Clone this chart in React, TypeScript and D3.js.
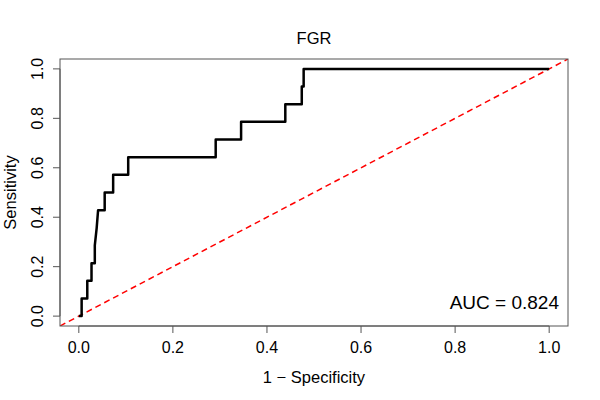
import { useEffect, useRef } from "react";
import * as d3 from "d3";

// ROC curve points (1 - specificity, sensitivity)
const fpr = [
  0, 0.006, 0.006, 0.018, 0.018, 0.027, 0.027, 0.034, 0.034, 0.038, 0.041, 0.055, 0.055,
  0.073, 0.073, 0.105, 0.105, 0.291, 0.291, 0.345, 0.345, 0.439, 0.439, 0.474, 0.474,
  0.478, 0.478, 1.0,
];
const tpr = [
  0, 0, 0.0714, 0.0714, 0.1429, 0.1429, 0.2143, 0.2143, 0.2857, 0.3571, 0.4286, 0.4286,
  0.5, 0.5, 0.5714, 0.5714, 0.6429, 0.6429, 0.7143, 0.7143, 0.7857, 0.7857, 0.8571,
  0.8571, 0.9286, 0.9286, 1.0, 1.0,
];
const xTicks = [0, 0.2, 0.4, 0.6, 0.8, 1.0];
const yTicks = [0, 0.2, 0.4, 0.6, 0.8, 1.0];
const title = "FGR";
const aucLabel = "AUC = 0.824";

export default function App() {
  const svgRef = useRef<SVGSVGElement>(null);

  useEffect(() => {
    if (!svgRef.current) return;
    const svg = d3.select(svgRef.current);
    svg.selectAll("*").remove();

    const font = "'Liberation Sans', Arial, Helvetica, sans-serif";
    const left = 60;
    const right = 568;
    const top = 59;
    const bottom = 326;
    const axisColor = "#555";

    // R-style 4% padding on each side
    const x = d3.scaleLinear().domain([-0.04, 1.04]).range([left, right]);
    const y = d3.scaleLinear().domain([-0.04, 1.04]).range([bottom, top]);
    const fmt = d3.format(".1f");

    svg.append("rect").attr("width", 600).attr("height", 400).attr("fill", "#fff");

    svg
      .append("defs")
      .append("clipPath")
      .attr("id", "plotClip")
      .append("rect")
      .attr("x", left)
      .attr("y", top)
      .attr("width", right - left)
      .attr("height", bottom - top);

    // Chance diagonal
    svg
      .append("line")
      .attr("clip-path", "url(#plotClip)")
      .attr("x1", x(-0.04))
      .attr("y1", y(-0.04))
      .attr("x2", x(1.04))
      .attr("y2", y(1.04))
      .attr("stroke", "#ff0000")
      .attr("stroke-width", 1.5)
      .attr("stroke-dasharray", "6,4");

    // ROC curve
    const pts: [number, number][] = fpr.map((f, i) => [f, tpr[i]]);
    const line = d3
      .line<[number, number]>()
      .x((d) => x(d[0]))
      .y((d) => y(d[1]));
    svg
      .append("path")
      .attr("d", line(pts))
      .attr("fill", "none")
      .attr("stroke", "#000")
      .attr("stroke-width", 2.5)
      .attr("stroke-linejoin", "round");

    // Box
    svg
      .append("rect")
      .attr("x", left)
      .attr("y", top)
      .attr("width", right - left)
      .attr("height", bottom - top)
      .attr("fill", "none")
      .attr("stroke", axisColor)
      .attr("stroke-width", 1);

    // X axis
    const gx = svg.append("g");
    gx.append("line")
      .attr("x1", x(0))
      .attr("x2", x(1))
      .attr("y1", bottom)
      .attr("y2", bottom)
      .attr("stroke", axisColor);
    gx.selectAll("line.tick")
      .data(xTicks)
      .join("line")
      .attr("class", "tick")
      .attr("x1", (d) => x(d))
      .attr("x2", (d) => x(d))
      .attr("y1", bottom)
      .attr("y2", bottom + 7)
      .attr("stroke", axisColor);
    gx.selectAll("text")
      .data(xTicks)
      .join("text")
      .attr("x", (d) => x(d))
      .attr("y", 353)
      .attr("text-anchor", "middle")
      .style("font-family", font)
      .style("font-size", "16px")
      .text((d) => fmt(d));

    // Y axis
    const gy = svg.append("g");
    gy.append("line")
      .attr("x1", left)
      .attr("x2", left)
      .attr("y1", y(0))
      .attr("y2", y(1))
      .attr("stroke", axisColor);
    gy.selectAll("line.tick")
      .data(yTicks)
      .join("line")
      .attr("class", "tick")
      .attr("x1", left - 7)
      .attr("x2", left)
      .attr("y1", (d) => y(d))
      .attr("y2", (d) => y(d))
      .attr("stroke", axisColor);
    gy.selectAll("text")
      .data(yTicks)
      .join("text")
      .attr("transform", (d) => `translate(42.5,${y(d)}) rotate(-90)`)
      .attr("text-anchor", "middle")
      .style("font-family", font)
      .style("font-size", "16px")
      .text((d) => fmt(d));

    // Title
    svg
      .append("text")
      .attr("x", (left + right) / 2)
      .attr("y", 44)
      .attr("text-anchor", "middle")
      .style("font-family", font)
      .style("font-size", "16.5px")
      .text(title);

    // Axis titles
    svg
      .append("text")
      .attr("x", (left + right) / 2)
      .attr("y", 383)
      .attr("text-anchor", "middle")
      .style("font-family", font)
      .style("font-size", "16.5px")
      .text("1 \u2212 Specificity");

    svg
      .append("text")
      .attr("transform", `translate(16,${(top + bottom) / 2}) rotate(-90)`)
      .attr("text-anchor", "middle")
      .style("font-family", font)
      .style("font-size", "16.5px")
      .text("Sensitivity");

    // AUC annotation
    svg
      .append("text")
      .attr("x", 559)
      .attr("y", 309)
      .attr("text-anchor", "end")
      .style("font-family", font)
      .style("font-size", "19px")
      .text(aucLabel);
  }, []);

  return (
    <svg
      ref={svgRef}
      width={600}
      height={400}
      style={{ position: "absolute", left: 0, top: 0 }}
    />
  );
}
